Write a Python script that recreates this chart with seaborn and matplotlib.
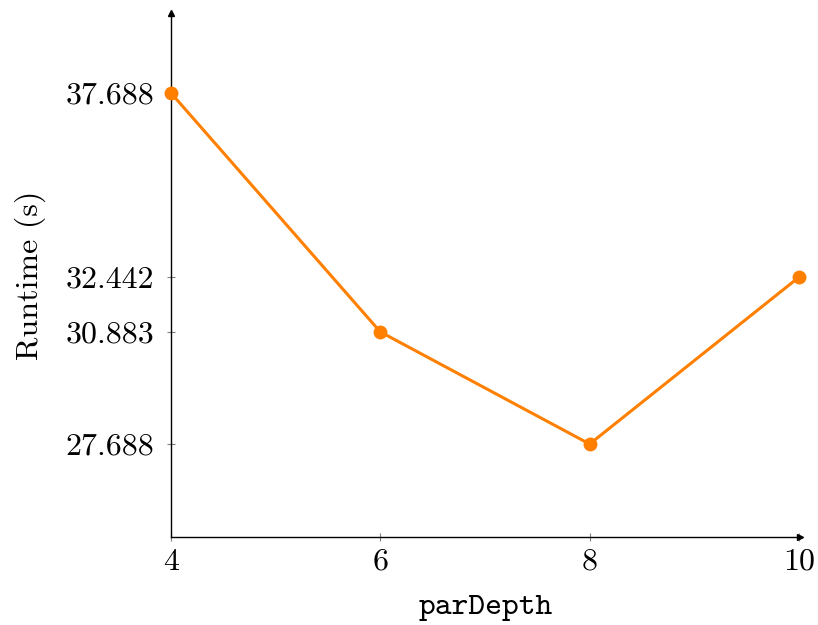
import matplotlib
matplotlib.use("Agg")
import matplotlib.pyplot as plt
import seaborn as sns
import pandas as pd

par_depth = [4, 6, 8, 10]
runtime = [37.688, 30.883, 27.688, 32.442]
x_ticks = [4, 6, 8, 10]
y_ticks = [27.688, 30.883, 32.442, 37.688]
y_tick_labels = ["27.688", "30.883", "32.442", "37.688"]

sns.set_style("ticks")
plt.rcParams['font.family'] = ['cmr10', 'DejaVu Serif']
plt.rcParams['axes.formatter.use_mathtext'] = True
plt.rcParams['mathtext.fontset'] = 'cm'
plt.rcParams['text.color'] = 'black'
plt.rcParams['axes.labelcolor'] = 'black'
plt.rcParams['xtick.labelcolor'] = 'black'
plt.rcParams['ytick.labelcolor'] = 'black'

df = pd.DataFrame({"parDepth": par_depth, "runtime": runtime})

fig = plt.figure(figsize=(8.18, 6.25), dpi=100)
ax = fig.add_axes([171/818, 88/625, 629/818, 524/625])

sns.lineplot(data=df, x="parDepth", y="runtime", ax=ax, color="#FF8000",
             linewidth=2.2, marker="o", markersize=10, markeredgewidth=0,
             clip_on=False, zorder=3)

ax.set_xlim(4, 10.01)
ax.set_ylim(25.04, 39.967)
ax.set_xticks(x_ticks)
ax.set_xticklabels([str(v) for v in x_ticks])
ax.set_yticks(y_ticks)
ax.set_yticklabels(y_tick_labels)

for s in ["top", "right"]:
    ax.spines[s].set_visible(False)
for s in ["left", "bottom"]:
    ax.spines[s].set_linewidth(1.0)
    ax.spines[s].set_color("black")

ax.tick_params(axis="both", direction="inout", length=6, width=0.8,
               color="#808080", labelsize=23)
ax.tick_params(axis="y", pad=9)
ax.tick_params(axis="x", pad=5)

# arrow heads
ax.plot(1, 0, ">", color="black", markersize=5, transform=ax.transAxes, clip_on=False)
ax.plot(0, 1, "^", color="black", markersize=5, transform=ax.transAxes, clip_on=False)

ax.set_ylabel("Runtime (s)", fontsize=23, labelpad=14)
ax.set_xlabel("parDepth", fontsize=23, family=["cmtt10", "DejaVu Sans Mono"], labelpad=14)

fig.savefig("out.png", dpi=100)
